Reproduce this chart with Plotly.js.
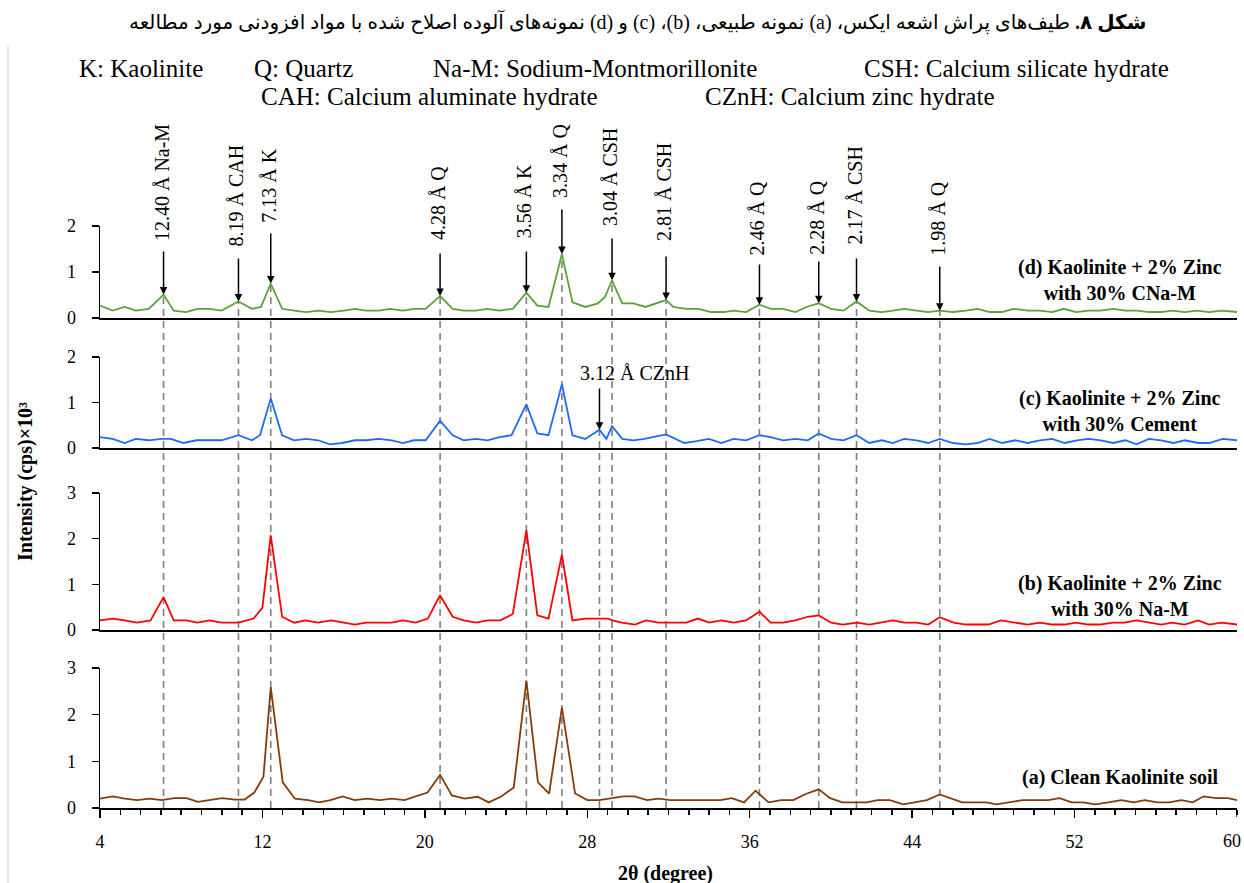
<!DOCTYPE html>
<html>
<head>
<meta charset="utf-8">
<script src="https://cdn.plot.ly/plotly-3.0.1.min.js"></script>
<style>html,body{margin:0;padding:0;background:#fff;}#chart{width:1244px;height:883px;}</style>
</head>
<body>
<div id="chart"></div>
<script>
// ---------------- DATA ----------------
// (a) Clean Kaolinite soil
const xA = [4.0,4.62,5.22,5.82,6.45,7.05,7.65,8.27,8.82,9.42,10.02,10.64,11.12,11.6,12.05,12.41,13.0,13.6,14.25,14.8,15.35,15.95,16.54,17.18,17.78,18.36,19.0,19.55,20.13,20.75,21.33,21.95,22.6,23.15,23.78,24.38,25.0,25.57,26.12,26.75,27.4,28.0,28.58,29.22,29.77,30.32,30.95,31.5,32.1,32.56,33.26,33.86,34.56,35.11,35.72,36.29,36.93,37.54,38.15,38.76,39.4,39.96,40.56,41.16,41.76,42.3,42.9,43.56,44.12,44.73,45.36,45.86,46.46,47.06,47.66,48.16,48.76,49.46,50.06,50.7,51.26,51.86,52.42,53.03,53.66,54.3,54.91,55.46,56.06,56.66,57.26,57.82,58.36,58.96,59.56,60.0];
const yA = [0.20,0.25,0.20,0.17,0.20,0.17,0.21,0.21,0.13,0.17,0.21,0.18,0.18,0.33,0.67,2.59,0.55,0.20,0.17,0.12,0.17,0.25,0.17,0.20,0.17,0.20,0.17,0.25,0.33,0.71,0.27,0.20,0.24,0.12,0.25,0.44,2.73,0.55,0.31,2.15,0.31,0.17,0.17,0.21,0.25,0.25,0.17,0.20,0.17,0.17,0.17,0.17,0.17,0.21,0.12,0.37,0.12,0.17,0.17,0.30,0.40,0.21,0.12,0.12,0.12,0.17,0.17,0.08,0.12,0.17,0.29,0.21,0.12,0.12,0.12,0.08,0.12,0.17,0.17,0.17,0.21,0.12,0.12,0.08,0.12,0.17,0.12,0.17,0.12,0.12,0.17,0.12,0.25,0.21,0.21,0.17];

// (b) Kaolinite + 2% Zinc with 30% Na-M
const xB = [4.0,4.62,5.22,5.81,6.49,7.13,7.63,8.25,8.79,9.39,9.99,10.82,11.57,12.0,12.41,12.97,13.56,14.11,14.74,15.38,16.01,16.56,17.1,17.74,18.37,18.92,19.55,20.15,20.75,21.37,21.91,22.51,23.09,23.73,24.33,25.0,25.54,26.09,26.75,27.27,27.9,28.45,29.0,29.24,29.7,30.35,30.9,31.5,32.2,32.88,33.45,34.0,34.6,35.21,35.82,36.48,37.03,37.64,38.25,38.85,39.4,40.01,40.58,41.29,41.89,42.5,43.05,43.61,44.22,44.79,45.36,46.04,46.65,47.2,47.76,48.37,49.08,49.69,50.29,50.9,51.51,52.07,52.68,53.23,53.9,54.44,55.05,55.66,56.26,56.81,57.42,58.09,58.63,59.24,60.0];
const yB = [0.21,0.25,0.21,0.16,0.21,0.72,0.21,0.21,0.16,0.21,0.16,0.16,0.25,0.49,2.07,0.29,0.16,0.21,0.16,0.21,0.16,0.12,0.16,0.16,0.16,0.21,0.16,0.25,0.76,0.29,0.21,0.16,0.21,0.21,0.35,2.18,0.32,0.25,1.65,0.21,0.25,0.25,0.25,0.21,0.16,0.12,0.21,0.16,0.16,0.16,0.25,0.16,0.21,0.16,0.21,0.40,0.16,0.16,0.21,0.29,0.32,0.16,0.12,0.16,0.12,0.16,0.21,0.16,0.16,0.12,0.28,0.16,0.12,0.12,0.12,0.21,0.16,0.12,0.16,0.12,0.12,0.16,0.12,0.12,0.16,0.16,0.21,0.16,0.12,0.16,0.12,0.21,0.12,0.16,0.12];

// (c) Kaolinite + 2% Zinc with 30% Cement
const xC = [4.0,4.62,5.22,5.76,6.4,7.03,7.48,8.12,8.75,9.39,9.99,10.82,11.48,11.88,12.41,12.97,13.56,14.16,14.74,15.32,15.92,16.56,17.1,17.74,18.37,18.92,19.46,20.04,20.75,21.37,21.91,22.51,23.09,23.67,24.27,25.0,25.54,26.09,26.75,27.27,27.9,28.6,28.94,29.22,29.72,30.26,30.81,31.88,32.78,33.39,33.99,34.6,35.21,35.82,36.48,37.03,37.64,38.25,38.86,39.4,40.01,40.62,41.26,41.89,42.5,43.05,43.61,44.22,44.79,45.36,46.0,46.65,47.22,47.82,48.43,49.08,49.69,50.29,50.9,51.51,52.12,52.68,53.29,53.9,54.5,55.05,55.66,56.26,56.87,57.42,58.09,58.63,59.3,60.0];
const yC = [0.24,0.20,0.11,0.20,0.17,0.20,0.20,0.11,0.17,0.17,0.17,0.28,0.17,0.28,1.09,0.28,0.17,0.20,0.17,0.08,0.11,0.17,0.17,0.20,0.17,0.11,0.17,0.17,0.60,0.28,0.17,0.20,0.17,0.24,0.28,0.96,0.32,0.28,1.40,0.28,0.20,0.40,0.20,0.48,0.20,0.17,0.20,0.30,0.11,0.15,0.20,0.11,0.20,0.17,0.28,0.24,0.17,0.20,0.17,0.32,0.20,0.17,0.28,0.11,0.17,0.11,0.20,0.17,0.11,0.20,0.11,0.08,0.11,0.20,0.11,0.17,0.11,0.17,0.20,0.11,0.17,0.20,0.17,0.11,0.17,0.08,0.20,0.17,0.11,0.17,0.11,0.11,0.20,0.17];

// (d) Kaolinite + 2% Zinc with 30% CNa-M
const xD = [4.0,4.62,5.22,5.76,6.4,7.13,7.63,8.25,8.79,9.39,9.99,10.82,11.48,11.93,12.41,12.97,13.56,14.16,14.74,15.38,16.01,16.56,17.1,17.74,18.28,18.92,19.46,20.04,20.75,21.37,21.91,22.51,23.09,23.67,24.33,25.0,25.54,26.09,26.75,27.27,27.9,28.5,28.86,29.22,29.72,30.26,30.86,31.88,32.24,32.88,33.49,34.1,34.71,35.21,35.82,36.48,37.03,37.64,38.25,38.86,39.4,40.01,40.62,41.26,41.89,42.5,43.05,43.61,44.22,44.79,45.36,46.0,46.65,47.22,47.82,48.43,48.98,49.69,50.29,50.9,51.47,52.08,52.68,53.29,53.9,54.5,55.05,55.66,56.26,56.81,57.42,58.03,58.63,59.24,60.0];
const yD = [0.27,0.16,0.24,0.16,0.20,0.51,0.16,0.13,0.20,0.20,0.16,0.36,0.20,0.24,0.75,0.20,0.16,0.13,0.16,0.13,0.16,0.20,0.16,0.16,0.20,0.16,0.20,0.20,0.48,0.20,0.16,0.16,0.20,0.16,0.20,0.55,0.27,0.24,1.39,0.34,0.24,0.31,0.45,0.82,0.32,0.32,0.24,0.39,0.24,0.20,0.20,0.13,0.13,0.16,0.13,0.29,0.20,0.20,0.13,0.25,0.32,0.20,0.16,0.36,0.16,0.13,0.16,0.20,0.16,0.13,0.16,0.13,0.16,0.20,0.13,0.13,0.20,0.16,0.16,0.13,0.20,0.13,0.16,0.16,0.20,0.16,0.16,0.13,0.13,0.16,0.13,0.16,0.13,0.16,0.13];

// Peak identifications (2θ positions of the dashed lines)
const peakLabels = ['12.40 Å Na-M','8.19 Å CAH','7.13 Å K','4.28 Å Q','3.56 Å K','3.34 Å Q','3.04 Å CSH','2.81 Å CSH','2.46 Å Q','2.28 Å Q','2.17 Å CSH','1.98 Å Q'];
const peakX = [7.13,10.82,12.41,20.75,25.0,26.75,29.22,31.88,36.48,39.4,41.26,45.36];
const czLabel = '3.12 Å CZnH';
const czX = 28.6;

const seriesNames = ['(a) Clean Kaolinite soil','(b) Kaolinite + 2% Zinc<br>with 30% Na-M','(c) Kaolinite + 2% Zinc<br>with 30% Cement','(d) Kaolinite + 2% Zinc<br>with 30% CNa-M'];
const keyTexts = ['K: Kaolinite','Q: Quartz','Na-M: Sodium-Montmorillonite','CSH: Calcium silicate hydrate','CAH: Calcium aluminate hydrate','CZnH: Calcium zinc hydrate'];
const xTickVals = [4,12,20,28,36,44,52];
const xLastTick = 60;
const yTicks3 = [0,1,2,3];
const yTicks2 = [0,1,2];
const titleText = '<b>\u202Bشکل ۸.</b> طیف‌های پراش اشعه ایکس، (a) نمونه طبیعی، (b)، (c) و (d) نمونه‌های آلوده اصلاح شده با مواد افزودنی مورد مطالعه\u202C';

// ---------------- LAYOUT HELPERS ----------------
const W = 1244, H = 883, ML = 100, MR = 7;
const py = p => (H - p) / H;
const px = p => (p - ML) / (W - ML - MR);
const domA = [py(808), py(668)], domB = [py(630), py(493)], domC = [py(448), py(357)], domD = [py(318), py(226)];
const FONT = 'Liberation Serif, Times New Roman, serif';

function nearestVal(xs, ys, x) {
  let bi = 0, bd = 1e9;
  xs.forEach((v, i) => { const d = Math.abs(v - x); if (d < bd) { bd = d; bi = i; } });
  return ys[bi];
}

const colors = ['#843C0C', '#FF0000', '#1F6BF2', '#5AA23A'];
const traces = [
  {x: xA, y: yA, xaxis: 'x', yaxis: 'y'},
  {x: xB, y: yB, xaxis: 'x2', yaxis: 'y2'},
  {x: xC, y: yC, xaxis: 'x3', yaxis: 'y3'},
  {x: xD, y: yD, xaxis: 'x4', yaxis: 'y4'}
].map((t, i) => Object.assign(t, {type: 'scatter', mode: 'lines', line: {color: colors[i], width: 1.8}, showlegend: false, hoverinfo: 'skip'}));

function yax(dom, anchor, ticks, maxv) {
  return {domain: dom, anchor: anchor, range: [0, maxv], tickvals: ticks, showline: true, linecolor: 'black', linewidth: 1.5,
    ticks: 'outside', ticklen: 7, tickwidth: 1.5, tickcolor: 'black', showgrid: false, zeroline: false,
    tickfont: {family: FONT, size: 18, color: 'black'}, ticklabelstandoff: 12, fixedrange: true};
}
function xax(anchor, main) {
  const a = {domain: [0, 1], anchor: anchor, range: [4, 60], showline: true, linecolor: 'black', linewidth: 2,
    showgrid: false, zeroline: false, fixedrange: true};
  if (main) {
    Object.assign(a, {tickvals: xTickVals, ticks: 'outside', ticklen: 8, tickwidth: 1.5, tickcolor: 'black',
      tickfont: {family: FONT, size: 18, color: 'black'}, ticklabelstandoff: 8,
      minor: {tickmode: 'linear', tick0: 4, dtick: 1, ticks: 'outside', ticklen: 5, tickwidth: 1.5, tickcolor: 'black'}});
  } else {
    Object.assign(a, {ticks: '', showticklabels: false});
  }
  return a;
}

const shapes = [];
const ann = [];
const pD = (v) => domD[0] + v / 2 * (domD[1] - domD[0]);
const pC = (v) => domC[0] + v / 2 * (domC[1] - domC[0]);

// dashed reference lines
peakX.forEach(x => {
  shapes.push({type: 'line', xref: 'x', yref: 'paper', x0: x, x1: x, y0: domA[0], y1: pD(nearestVal(xD, yD, x)),
    line: {color: '#7f7f7f', width: 1.6, dash: '7px,5px'}, layer: 'below'});
});
shapes.push({type: 'line', xref: 'x', yref: 'paper', x0: czX, x1: czX, y0: domA[0], y1: pC(nearestVal(xC, yC, czX)),
  line: {color: '#7f7f7f', width: 1.6, dash: '7px,5px'}, layer: 'below'});
// thin frame line at left
shapes.push({type: 'line', xref: 'paper', yref: 'paper', x0: px(8), x1: px(8), y0: 0, y1: py(45), line: {color: '#cfcfcf', width: 1}});
// major tick at the right end of the 2θ axis
shapes.push({type: 'line', xref: 'x', yref: 'paper', x0: xLastTick, x1: xLastTick, y0: py(808), y1: py(817), line: {color: 'black', width: 1.5}});

// peak labels & arrows (layout positions in pixels)
const labelBottomPx = [243, 248, 225, 242, 240, 200, 228, 243, 257, 257, 247, 258];
const arrowTailPx = [250, 257, 232, 252, 250, 208, 237, 255, 263, 260, 257, 265];
peakLabels.forEach((t, i) => {
  ann.push({x: peakX[i], xref: 'x', y: py(labelBottomPx[i]), yref: 'paper', yanchor: 'bottom', xanchor: 'center', xshift: -2,
    textangle: -90, text: t, showarrow: false, font: {family: FONT, size: 20, color: 'black'}});
  ann.push({x: peakX[i], y: nearestVal(xD, yD, peakX[i]), xref: 'x4', yref: 'y4', axref: 'x4', ayref: 'y4',
    ax: peakX[i], ay: (318 - arrowTailPx[i]) / 46, text: '', showarrow: true, arrowhead: 2, arrowsize: 1, arrowwidth: 1.5, arrowcolor: 'black', standoff: 0});
});
// CZnH
ann.push({x: czX, xref: 'x', xshift: 35, y: py(373), yref: 'paper', xanchor: 'center', yanchor: 'middle', text: czLabel, showarrow: false,
  font: {family: FONT, size: 20, color: 'black'}});
ann.push({x: czX, y: nearestVal(xC, yC, czX), xref: 'x3', yref: 'y3', axref: 'x3', ayref: 'y3', ax: czX, ay: (448 - 387) / 45.5,
  text: '', showarrow: true, arrowhead: 2, arrowsize: 1, arrowwidth: 1.5, arrowcolor: 'black', standoff: 0});

// series labels
const seriesLabelY = [777, 595.5, 411, 279.5];
seriesNames.forEach((t, i) => {
  ann.push({x: px(1120), xref: 'paper', y: py(seriesLabelY[i]), yref: 'paper', xanchor: 'center', yanchor: 'middle', align: 'center',
    text: '<b>' + t + '</b>', showarrow: false, font: {family: FONT, size: 20, color: 'black'}});
});

// key
const keyCx = [141, 303, 595, 1016, 429, 850];
const keyCy = [68, 68, 68, 68, 97, 97];
keyTexts.forEach((t, i) => {
  ann.push({x: px(keyCx[i]), xref: 'paper', y: py(keyCy[i]), yref: 'paper', xanchor: 'center', yanchor: 'middle', text: t,
    showarrow: false, font: {family: FONT, size: 25, color: 'black'}});
});

// last x tick label, right-aligned at the page edge
ann.push({x: px(1243), xref: 'paper', y: py(841), yref: 'paper', xanchor: 'right', yanchor: 'middle',
  text: String(xLastTick), showarrow: false, font: {family: FONT, size: 18, color: 'black'}});

// title
ann.push({x: px(637), xref: 'paper', y: py(22), yref: 'paper', xanchor: 'center', yanchor: 'middle', text: titleText, showarrow: false,
  font: {family: 'Liberation Serif, DejaVu Sans, serif', size: 20, color: 'black'}});
// axis titles
ann.push({x: px(25), xref: 'paper', y: py(482), yref: 'paper', xanchor: 'center', yanchor: 'middle', textangle: -90,
  text: '<b>Intensity (cps)×10³</b>', showarrow: false, font: {family: FONT, size: 20, color: 'black'}});
ann.push({x: px(665), xref: 'paper', y: py(873), yref: 'paper', xanchor: 'center', yanchor: 'middle',
  text: '<b>2θ (degree)</b>', showarrow: false, font: {family: FONT, size: 20, color: 'black'}});

const layout = {
  width: W, height: H, margin: {l: ML, r: MR, t: 0, b: 0},
  paper_bgcolor: 'white', plot_bgcolor: 'rgba(0,0,0,0)', showlegend: false, hovermode: false,
  xaxis: xax('y', true), xaxis2: xax('y2', false), xaxis3: xax('y3', false), xaxis4: xax('y4', false),
  yaxis: yax(domA, 'x', yTicks3, 3), yaxis2: yax(domB, 'x2', yTicks3, 3), yaxis3: yax(domC, 'x3', yTicks2, 2), yaxis4: yax(domD, 'x4', yTicks2, 2),
  shapes: shapes, annotations: ann
};

Plotly.newPlot('chart', traces, layout, {displayModeBar: false, staticPlot: true});
</script>
</body>
</html>
